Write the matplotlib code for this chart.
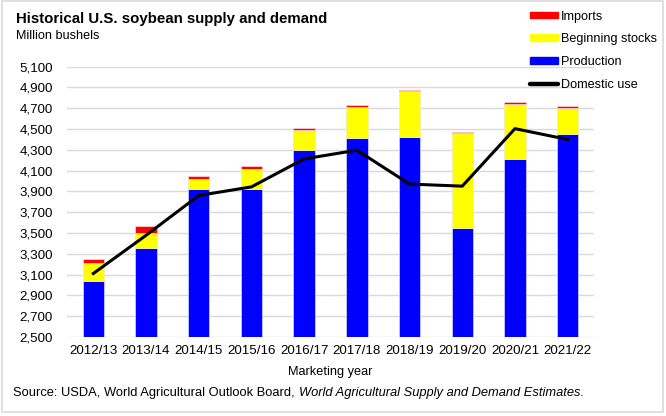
import matplotlib
matplotlib.use("Agg")
import matplotlib.pyplot as plt
from matplotlib.patches import Patch, Rectangle
from matplotlib.lines import Line2D
import numpy as np

plt.rcParams['font.family'] = ['Liberation Sans', 'DejaVu Sans']

# 데이터 (million bushels)
years = ['2012/13', '2013/14', '2014/15', '2015/16', '2016/17',
         '2017/18', '2018/19', '2019/20', '2020/21', '2021/22']
production = [3042, 3358, 3927, 3926, 4296, 4412, 4428, 3552, 4216, 4448]
beginning_stocks = [169, 141, 92, 191, 197, 302, 438, 909, 525, 257]
imports = [41, 72, 33, 24, 22, 22, 14, 15, 20, 15]
domestic_use = [3111, 3478, 3861, 3944, 4213, 4297, 3971, 3951, 4504, 4400]

yticks = list(range(2500, 5101, 200))

W, H = 666, 416
fig = plt.figure(figsize=(W / 100, H / 100), dpi=100)

# 바깥 테두리
fig.patches.append(Rectangle((2 / W, 1 - 412 / H), 661 / W, 411 / H, transform=fig.transFigure,
                             fill=False, edgecolor='#d9d9d9', lw=1.2))

ax = fig.add_axes([67 / W, (H - 337) / H, (594 - 67) / W, (337 - 66.7) / H])

x = np.arange(len(years))
prod = np.array(production)
bs = np.array(beginning_stocks)
imp = np.array(imports)

w = 0.405
ax.bar(x, prod, w, color='#0000ff', zorder=2, edgecolor='#c8c8ff', linewidth=0.6)
ax.bar(x, bs, w, bottom=prod, color='#ffff00', zorder=2, edgecolor='#f0f0b0', linewidth=0.6)
ax.bar(x, imp, w, bottom=prod + bs, color='#ff0000', zorder=2, edgecolor='#ffc8c8', linewidth=0.6)
ax.plot(x, domestic_use, color='black', lw=2.2, zorder=3, solid_joinstyle='round')

ax.set_xlim(-0.5, len(years) - 0.5)
ax.set_ylim(2500, 5100)
ax.set_yticks(yticks)
ax.set_yticklabels([f'{v:,}' for v in yticks])
ax.set_xticks(x)
ax.set_xticklabels(years)
ax.tick_params(axis='both', length=0, labelsize=9.6)
ax.tick_params(axis='y', pad=10)
ax.tick_params(axis='x', pad=6)
ax.yaxis.grid(True, color='#d9d9d9', lw=1, zorder=0)
ax.set_axisbelow(True)
for s in ax.spines.values():
    s.set_visible(False)

fig.text(330 / W, 1 - 371.7 / H, 'Marketing year', ha='center', va='center', fontsize=9.2)

fig.text(16.5 / W, 1 - 22.7 / H, 'Historical U.S. soybean supply and demand',
         fontsize=10.8, fontweight='bold', va='baseline')
fig.text(15.5 / W, 1 - 39.3 / H, 'Million bushels', fontsize=9.1, va='baseline')

# 범례
handles = [Patch(color='#ff0000'), Patch(color='#ffff00'), Patch(color='#0000ff'),
           Line2D([0], [0], color='black', lw=3.2, solid_capstyle='round')]
labels = ['Imports', 'Beginning stocks', 'Production', 'Domestic use']
fig.legend(handles, labels, loc='upper left', bbox_to_anchor=(527.5 / W, 1 - 8 / H),
           frameon=False, fontsize=9.1, handlelength=2.25, handleheight=0.46,
           handletextpad=0.22, labelspacing=0.86, borderpad=0.2, borderaxespad=0)

# 출처
t1 = fig.text(13.3 / W, 1 - 393 / H, 'Source: USDA, World Agricultural Outlook Board, ',
              fontsize=9.3, va='center')
fig.canvas.draw()
bb = t1.get_window_extent()
fig.text(bb.x1 / W, 1 - 393 / H, 'World Agricultural Supply and Demand Estimates.',
         fontsize=9.3, va='center', style='italic')

plt.savefig('out.png', dpi=100)
